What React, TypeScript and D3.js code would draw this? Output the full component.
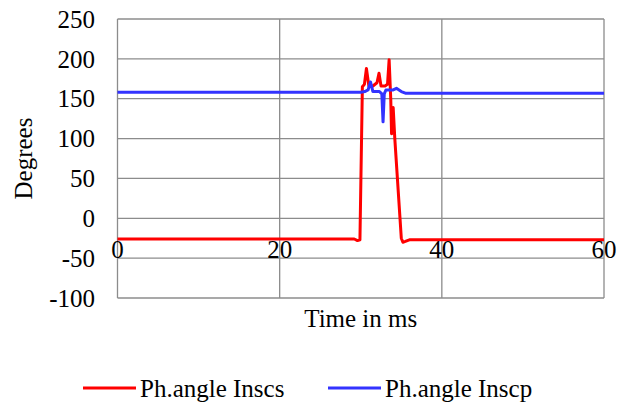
import React from 'react'
import * as d3 from 'd3'

// Data (time in ms, angle in degrees)
const redTime = [0, 29.2, 29.6, 29.9, 30.2, 30.45, 30.7, 31.0, 31.5, 32.0, 32.25, 32.5, 33.0, 33.3, 33.5, 33.7, 33.8, 34.0, 34.2, 35.0, 35.2, 35.5, 36.0, 60]
const redValues = [-26, -26, -28, -27, 165, 168, 188, 166, 166, 170, 182, 166, 166, 168, 199, 150, 106, 139, 100, -25, -30, -29, -27, -27]
const blueTime = [0, 30.0, 30.5, 30.9, 31.2, 31.5, 32.3, 32.6, 32.75, 32.9, 33.1, 34.0, 34.4, 35.0, 35.5, 60]
const blueValues = [158, 158, 159, 161, 171, 159, 159, 156, 121, 156, 161, 161, 163, 159, 157, 157]
const xTicks = [0, 20, 40, 60]
const yTicks = [-100, -50, 0, 50, 100, 150, 200, 250]
const seriesNames = ['Ph.angle Inscs', 'Ph.angle Inscp']
const seriesColors = ['#ff0000', '#3333ff']
const legendX = [83, 328]

const W = 631
const H = 406
const margin = { left: 117.5, right: 27, top: 19, bottom: 108 }
const font = '"Liberation Serif", "Times New Roman", serif'
const fontSize = 25
const gridColor = '#8c8c8c'

export default function App() {
  const x = d3.scaleLinear().domain([0, 60]).range([margin.left, W - margin.right])
  const y = d3.scaleLinear().domain([-100, 250]).range([H - margin.bottom, margin.top])
  const line = d3
    .line<[number, number]>()
    .x(d => x(d[0]))
    .y(d => y(d[1]))
  const red = redTime.map((t, i) => [t, redValues[i]] as [number, number])
  const blue = blueTime.map((t, i) => [t, blueValues[i]] as [number, number])
  const series = [red, blue]

  return (
    <svg width={W} height={H} style={{ position: 'absolute', left: 0, top: 0, background: '#fff' }}>
      <rect x={0} y={0} width={W} height={H} fill="#fff" />
      {/* grid */}
      {yTicks.map(t => (
        <line key={'gy' + t} x1={x(0)} x2={x(60)} y1={y(t)} y2={y(t)} stroke={gridColor} strokeWidth={1.3} />
      ))}
      {xTicks.map(t => (
        <line key={'gx' + t} x1={x(t)} x2={x(t)} y1={y(-100)} y2={y(250)} stroke={gridColor} strokeWidth={1.3} />
      ))}
      {/* y tick labels */}
      {yTicks.map(t => (
        <text key={'ty' + t} x={95} y={y(t)} dy="0.35em" textAnchor="end" fontFamily={font} fontSize={fontSize} fill="#000">
          {t}
        </text>
      ))}
      {/* series */}
      {series.map((s, i) => (
        <path key={'s' + i} d={line(s) ?? ''} fill="none" stroke={seriesColors[i]} strokeWidth={3} strokeLinejoin="round" />
      ))}
      {/* x tick labels sitting on the -50 axis */}
      {xTicks.map(t => (
        <text key={'tx' + t} x={x(t)} y={y(-50)} textAnchor="middle" fontFamily={font} fontSize={fontSize} fill="#000">
          {t}
        </text>
      ))}
      {/* axis titles */}
      <text x={(x(0) + x(60)) / 2} y={327} textAnchor="middle" fontFamily={font} fontSize={fontSize} fill="#000">
        Time in ms
      </text>
      <text transform={`translate(32,${(y(-100) + y(250)) / 2}) rotate(-90)`} textAnchor="middle" fontFamily={font} fontSize={fontSize} fill="#000">
        Degrees
      </text>
      {/* legend */}
      {seriesNames.map((n, i) => (
        <g key={'lg' + i}>
          <line x1={legendX[i]} x2={legendX[i] + 53} y1={388} y2={388} stroke={seriesColors[i]} strokeWidth={3} />
          <text x={legendX[i] + 57} y={388} dy="0.35em" fontFamily={font} fontSize={fontSize} fill="#000">
            {n}
          </text>
        </g>
      ))}
    </svg>
  )
}
